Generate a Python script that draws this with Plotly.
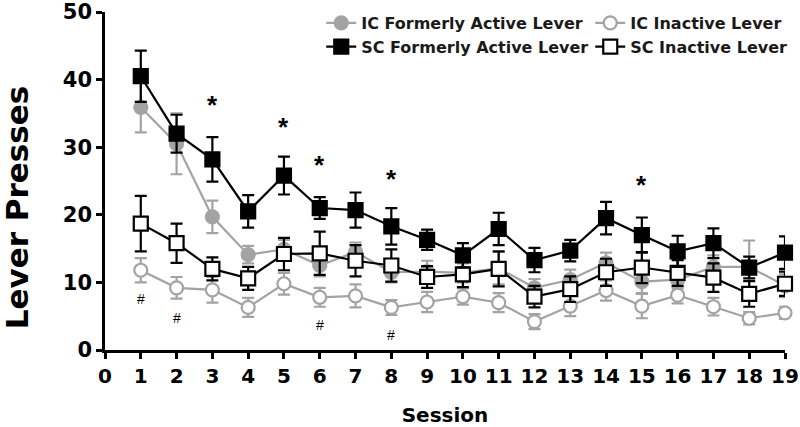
import plotly.graph_objects as go

sessions = list(range(1, 20))

sc_active = [40.5, 32.0, 28.2, 20.5, 25.8, 21.0, 20.7, 18.3, 16.3, 14.0, 17.9, 13.3, 14.7, 19.5, 17.0, 14.6, 15.8, 12.2, 14.4]
sc_active_err = [3.8, 2.8, 3.3, 2.4, 2.8, 1.6, 2.6, 2.7, 1.5, 1.8, 2.4, 1.8, 1.6, 2.4, 2.6, 2.3, 2.2, 1.6, 2.4]

ic_active = [35.9, 30.5, 19.7, 14.1, 14.9, 12.5, 14.5, 11.5, 11.6, 11.4, 12.1, 9.2, 10.4, 12.9, 10.1, 10.4, 12.3, 12.3, 9.5]
ic_active_err = [3.7, 4.5, 2.4, 1.3, 1.4, 1.6, 1.4, 1.5, 1.6, 1.4, 2.4, 1.3, 1.5, 1.5, 1.7, 1.3, 1.7, 3.9, 1.7]

sc_inactive = [18.7, 15.8, 12.0, 10.6, 14.2, 14.3, 13.2, 12.5, 10.8, 11.2, 12.0, 7.9, 9.0, 11.5, 12.2, 11.4, 10.7, 8.3, 9.8]
sc_inactive_err = [4.1, 2.9, 1.7, 1.7, 2.4, 3.2, 2.3, 2.4, 1.6, 1.9, 2.6, 1.6, 1.9, 2.0, 2.3, 1.9, 2.1, 1.9, 1.8]

ic_inactive = [11.8, 9.2, 8.9, 6.3, 9.8, 7.8, 8.0, 6.3, 7.1, 7.9, 7.0, 4.2, 6.5, 8.8, 6.5, 8.1, 6.4, 4.7, 5.5]
ic_inactive_err = [1.8, 1.6, 1.9, 1.4, 1.6, 1.4, 1.7, 1.1, 1.5, 1.2, 1.4, 1.1, 1.5, 1.5, 1.8, 1.2, 1.3, 0.9, 0.9]

star_sessions = [3, 5, 6, 8, 15]
star_y = [36.2, 33.0, 27.4, 25.3, 24.4]
hash_sessions = [1, 2, 6, 8]
hash_y = [7.6, 4.7, 3.7, 2.2]

x_ticks = list(range(0, 20))
y_ticks = [0, 10, 20, 30, 40, 50]

GRAY = "#a3a3a3"
BLACK = "#000000"
FONT = "DejaVu Sans"

fig = go.Figure()

def add(name, y, err, color, symbol, fill, legend):
    fig.add_trace(go.Scatter(
        x=sessions, y=y, name=name, mode="lines+markers",
        line=dict(color=color, width=2.2),
        marker=dict(symbol=symbol, size=14 if "square" in symbol else 13,
                    color=fill, line=dict(color=color, width=2.2)),
        error_y=dict(type="data", array=err, visible=True, color=color,
                     thickness=2.2, width=6),
        cliponaxis=False, legend=legend,
    ))

add("IC Inactive Lever", ic_inactive, ic_inactive_err, GRAY, "circle", "white", "legend2")
add("IC Formerly Active Lever", ic_active, ic_active_err, GRAY, "circle", GRAY, "legend")
add("SC Inactive Lever", sc_inactive, sc_inactive_err, BLACK, "square", "white", "legend2")
add("SC Formerly Active Lever", sc_active, sc_active_err, BLACK, "square", BLACK, "legend")

for xs, ys in zip(star_sessions, star_y):
    fig.add_annotation(x=xs, y=ys, text="*", showarrow=False,
                       font=dict(family="Liberation Sans", size=26, color=BLACK, weight="bold"))
for xs, ys in zip(hash_sessions, hash_y):
    fig.add_annotation(x=xs, y=ys, text="#", showarrow=False,
                       font=dict(family="Liberation Sans", size=14, color=BLACK))

# y-axis title (rotated text, sitting lower than the plot centre as in the reference)
fig.add_annotation(text="Lever Presses", xref="paper", yref="paper", x=-0.129, y=0.423,
                   textangle=-90, showarrow=False, xanchor="center", yanchor="middle",
                   font=dict(family=FONT, size=31, color=BLACK, weight="bold"))

axis_common = dict(
    showline=True, linecolor=BLACK, linewidth=2.5, ticks="outside",
    ticklen=6, tickwidth=2.5, tickcolor=BLACK, showgrid=False, zeroline=False,
    automargin=False, ticklabeloverflow="allow",
)

fig.update_xaxes(range=[0, 19], tickvals=x_ticks, ticktext=[str(v) for v in x_ticks],
                 tickfont=dict(family=FONT, size=20, color=BLACK, weight="bold"),
                 title=dict(text="Session", font=dict(family=FONT, size=20, color=BLACK, weight="bold"),
                            standoff=22),
                 **axis_common)
fig.update_yaxes(range=[0, 50], tickvals=y_ticks, ticktext=[str(v) for v in y_ticks],
                 tickfont=dict(family=FONT, size=21, color=BLACK, weight="bold"),
                 **axis_common)

legend_common = dict(
    orientation="v", xanchor="left", yanchor="top", yref="paper", y=1.018,
    bgcolor="rgba(0,0,0,0)",
    font=dict(family=FONT, size=16, color="#1a1a1a", weight="bold"),
    itemwidth=30, tracegroupgap=0, traceorder="normal",
)
fig.update_layout(
    width=800, height=427,
    margin=dict(l=105, r=15, t=12, b=77, autoexpand=False),
    paper_bgcolor="white", plot_bgcolor="white",
    showlegend=True,
    legend=dict(x=0.318, **legend_common),
    legend2=dict(x=0.7136, **legend_common),
)

fig.write_html("out.html", config={"displayModeBar": False},
               post_script="document.body.style.margin='0';document.body.style.overflow='hidden';")
